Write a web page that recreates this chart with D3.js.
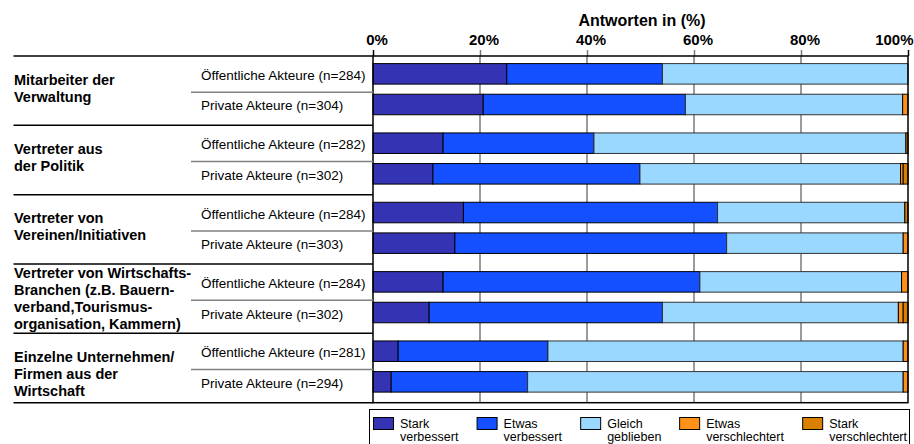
<!DOCTYPE html>
<html>
<head>
<meta charset="utf-8">
<script src="https://cdn.jsdelivr.net/npm/d3@7"></script>
<style>
  body { margin: 0; background: #fff; }
  svg { display: block; font-family: 'Liberation Sans', Arial, sans-serif; }
</style>
</head>
<body>
<div id="chart"></div>
<script>
// Gruppen (Zeilenumbrüche wie im Original)
const groupLabels = [
  ['Mitarbeiter der', 'Verwaltung'],
  ['Vertreter aus', 'der Politik'],
  ['Vertreter von', 'Vereinen/Initiativen'],
  ['Vertreter von Wirtschafts-', 'Branchen (z.B. Bauern-', 'verband,Tourismus-', 'organisation, Kammern)'],
  ['Einzelne Unternehmen/', 'Firmen aus der', 'Wirtschaft'],
];
const actorTypes = ['Öffentliche Akteure', 'Private Akteure'];
const sampleSizes = [[284, 304], [282, 302], [284, 303], [284, 302], [281, 294]];

const answerKeys = ['starkVerbessert', 'etwasVerbessert', 'gleich', 'etwasVerschlechtert', 'starkVerschlechtert'];
const answerLabels = [
  ['Stark', 'verbessert'],
  ['Etwas', 'verbessert'],
  ['Gleich', 'geblieben'],
  ['Etwas', 'verschlechtert'],
  ['Stark', 'verschlechtert'],
];
const answerColors = ['#3333b4', '#1450ff', '#9ad8ff', '#ff9118', '#d98000'];

// Werte in %, eine Zahl pro Balken (oben nach unten)
const starkVerbessert = [25.0, 20.6, 13.1, 11.2, 16.9, 15.3, 13.1, 10.5, 4.7, 3.4];
const etwasVerbessert = [29.1, 37.8, 28.2, 38.7, 47.5, 50.8, 48.0, 43.6, 28.0, 25.5];
const gleichGeblieben = [45.9, 40.6, 58.3, 48.7, 35.0, 33.0, 37.7, 44.1, 66.4, 70.2];
const etwasVerschlechtert = [0, 1.0, 0, 0.5, 0, 0.9, 1.2, 0.9, 0.9, 0.9];
const starkVerschlechtert = [0, 0, 0.4, 0.9, 0.6, 0, 0, 0.9, 0, 0];

const tickValues = [0, 20, 40, 60, 80, 100];
const axisTitle = 'Antworten in (%)';

// ----------------------------------------------------------------------------

const width = 914;
const height = 444;
const plot = { left: 373, right: 908, top: 56, bottom: 402.7 };
const labelLeft = 14;
const subLabelLeft = 201;
const subLineLeft = 191;

const rows = starkVerbessert.map((v, i) => ({
  group: Math.floor(i / 2),
  sub: i % 2,
  starkVerbessert: v,
  etwasVerbessert: etwasVerbessert[i],
  gleich: gleichGeblieben[i],
  etwasVerschlechtert: etwasVerschlechtert[i],
  starkVerschlechtert: starkVerschlechtert[i],
}));

const svg = d3.select('#chart').append('svg')
  .attr('width', width)
  .attr('height', height);

const x = d3.scaleLinear().domain([0, 100]).range([plot.left, plot.right]);
const yGroup = d3.scaleBand().domain(d3.range(groupLabels.length)).range([plot.top, plot.bottom]);
const yRow = d3.scaleBand().domain([0, 1])
  .range([-1.5, yGroup.bandwidth() - 1.5])
  .paddingInner(0.33)
  .paddingOuter(0.297);
const rowTop = d => yGroup(d.group) + yRow(d.sub);

// gridlines behind the bars
svg.append('g').classed('grid', true)
  .selectAll('line')
  .data(tickValues.filter(t => t > 0 && t < 100))
  .join('line')
  .attr('x1', d => x(d)).attr('x2', d => x(d))
  .attr('y1', plot.top).attr('y2', plot.bottom)
  .attr('stroke', '#7a7a7a')
  .attr('stroke-width', 1.5);

// axis with labels on top
const axis = svg.append('g')
  .attr('transform', `translate(0,${plot.top})`)
  .call(d3.axisTop(x).tickValues(tickValues).tickFormat(d => `${d}%`).tickSize(6).tickPadding(5.5));
axis.select('.domain').remove();
axis.selectAll('.tick line')
  .attr('stroke', (d) => (d === 0 || d === 100 ? '#000' : '#7a7a7a'))
  .attr('stroke-width', 1.5);
axis.selectAll('.tick text')
  .attr('fill', '#000')
  .attr('font-size', 15)
  .attr('font-weight', 'bold')
  .attr('font-family', "'Liberation Sans', Arial, sans-serif")
  .attr('dx', 3.5)
  .each(function (d) {
    // keep the last label inside the picture
    const w = this.getComputedTextLength();
    const right = x(d) + 3.5 + (w / 2);
    if (right > width - 1) {
      d3.select(this).attr('dx', 3.5 - (right - (width - 1)));
    }
  });

svg.append('text')
  .attr('x', (plot.left + plot.right) / 2 + 1.5)
  .attr('y', 25.5)
  .attr('text-anchor', 'middle')
  .attr('font-size', 16)
  .attr('font-weight', 'bold')
  .text(axisTitle);

// stacked bars
const stack = d3.stack().keys(answerKeys);
const series = stack(rows);

svg.append('g').classed('bars', true)
  .selectAll('g')
  .data(series)
  .join('g')
  .attr('fill', (d, i) => answerColors[i])
  .attr('stroke', (d, i) => (i === 2 ? '#333' : '#000'))
  .attr('stroke-width', 1)
  .selectAll('rect')
  .data(d => d.filter(seg => seg[1] - seg[0] > 0))
  .join('rect')
  .attr('x', d => x(d[0]))
  .attr('width', d => x(d[1]) - x(d[0]))
  .attr('y', d => rowTop(d.data))
  .attr('height', yRow.bandwidth());

// plot frame
svg.append('rect')
  .attr('x', plot.left).attr('y', plot.top)
  .attr('width', plot.right - plot.left)
  .attr('height', plot.bottom - plot.top)
  .attr('fill', 'none')
  .attr('stroke', '#000')
  .attr('stroke-width', 1.5);

// table on the left: group separators, sub separators, labels
const table = svg.append('g').classed('table', true);
const groupEdges = yGroup.domain().map(g => yGroup(g)).concat([plot.bottom]);

table.selectAll('line.group-sep')
  .data(groupEdges)
  .join('line')
  .classed('group-sep', true)
  .attr('x1', labelLeft - 0.5).attr('x2', plot.left)
  .attr('y1', d => d).attr('y2', d => d)
  .attr('stroke', '#000')
  .attr('stroke-width', 1.5);

table.selectAll('line.sub-sep')
  .data(yGroup.domain())
  .join('line')
  .classed('sub-sep', true)
  .attr('x1', subLineLeft).attr('x2', plot.left)
  .attr('y1', g => yGroup(g) + yRow(1) - 2)
  .attr('y2', g => yGroup(g) + yRow(1) - 2)
  .attr('stroke', '#808080')
  .attr('stroke-width', 1.5);

const lineHeight = 17;
table.selectAll('text.group-label')
  .data(groupLabels)
  .join('text')
  .classed('group-label', true)
  .attr('font-size', 14.5)
  .attr('font-weight', 'bold')
  .attr('fill', '#000')
  .each(function (lines, g) {
    const top = yGroup(g);
    const bottom = top + yGroup.bandwidth();
    // top aligned, pushed up when the label would overflow the cell
    const first = Math.min(top + 28.5, bottom - 4.5 - ((lines.length - 1) * lineHeight));
    d3.select(this).selectAll('tspan')
      .data(lines)
      .join('tspan')
      .attr('x', labelLeft)
      .attr('y', (d, i) => first + (i * lineHeight))
      .text(d => d);
  });

table.selectAll('text.sub-label')
  .data(rows)
  .join('text')
  .classed('sub-label', true)
  .attr('x', subLabelLeft)
  .attr('y', d => rowTop(d) + (yRow.bandwidth() / 2) + 6)
  .attr('font-size', 13.5)
  .attr('fill', '#000')
  .text(d => `${actorTypes[d.sub]} (n=${sampleSizes[d.group][d.sub]})`);

// legend
const legend = svg.append('g').classed('legend', true);
const legendBox = { left: 369.5, top: 409.5, right: 909.5 };
legend.append('rect')
  .attr('x', legendBox.left).attr('y', legendBox.top)
  .attr('width', legendBox.right - legendBox.left)
  .attr('height', 60)
  .attr('fill', '#fff')
  .attr('stroke', '#000')
  .attr('stroke-width', 1);

const items = legend.selectAll('g.item')
  .data(answerLabels)
  .join('g')
  .classed('item', true);

items.append('rect')
  .attr('y', 417.5)
  .attr('width', 20)
  .attr('height', 12)
  .attr('fill', (d, i) => answerColors[i])
  .attr('stroke', '#000')
  .attr('stroke-width', 1);

items.append('text')
  .attr('font-size', 12.5)
  .attr('fill', '#000')
  .selectAll('tspan')
  .data(d => d)
  .join('tspan')
  .attr('x', 26.5)
  .attr('y', (d, i) => 428 + (i * 13))
  .text(d => d);

// spread the items over the box, remaining space split evenly
const itemWidths = [];
items.each(function () {
  itemWidths.push(this.getBBox().width);
});
const legendStart = 373.5;
const legendEnd = 907.5;
const gap = (legendEnd - legendStart - d3.sum(itemWidths)) / (itemWidths.length - 1);
let cursor = legendStart;
items.attr('transform', (d, i) => {
  const tx = cursor;
  cursor += itemWidths[i] + gap;
  return `translate(${tx},0)`;
});
</script>
</body>
</html>
